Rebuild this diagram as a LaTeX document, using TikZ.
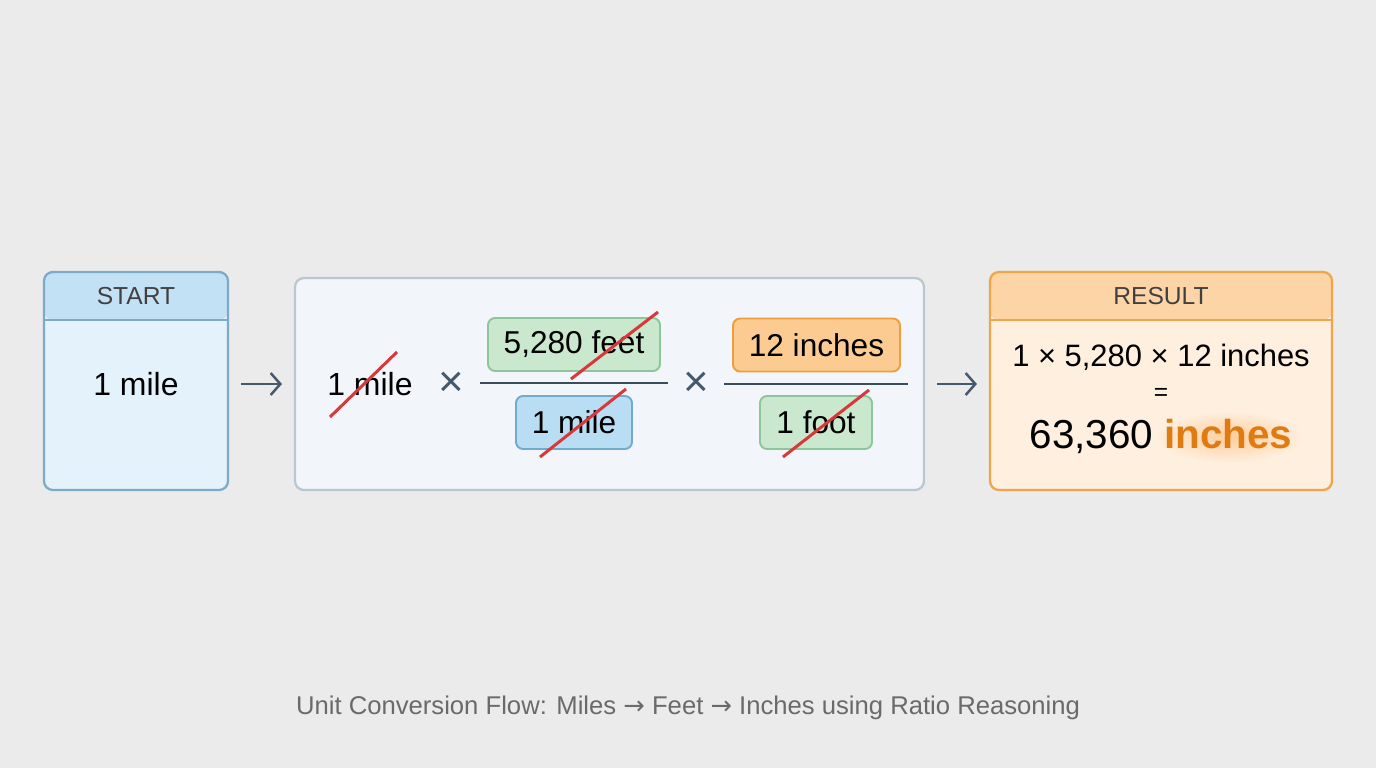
\documentclass[tikz,border=0pt]{standalone}
\usepackage{fontspec}
\setmainfont{Liberation Sans}
\newfontfamily\symfont{DejaVu Sans}
\usetikzlibrary{arrows.meta,positioning}

\definecolor{bgGray}{HTML}{EBEBEB}
\definecolor{startLine}{HTML}{7DAAC6}
\definecolor{startTop}{HTML}{C2E1F5}
\definecolor{startBody}{HTML}{E4F2FC}
\definecolor{calcLine}{HTML}{BAC6D0}
\definecolor{calcBody}{HTML}{F2F6FA}
\definecolor{resLine}{HTML}{F0A54A}
\definecolor{resTop}{HTML}{FDD4A6}
\definecolor{resBody}{HTML}{FEEFDF}
\definecolor{greenFill}{HTML}{C9E8CD}
\definecolor{greenLine}{HTML}{8CC69A}
\definecolor{blueFill}{HTML}{B9DDF3}
\definecolor{blueLine}{HTML}{72AACD}
\definecolor{orangeFill}{HTML}{FBCB92}
\definecolor{orangeLine}{HTML}{EE9E3E}
\definecolor{strikeRed}{HTML}{D8383C}
\definecolor{slate}{HTML}{45596B}
\definecolor{inchOrange}{HTML}{E07B12}
\definecolor{capGray}{HTML}{6A6A6A}

\tikzset{
  card/.style n args={3}{draw=#1, fill=#2, rounded corners=5pt, line width=1.3pt, inner sep=0,
    path picture={\path[fill=#3, draw=none] (path picture bounding box.north west) rectangle ([yshift=-0.96cm]path picture bounding box.north east);
      \path[draw=#1, line width=1.3pt] ([yshift=-0.96cm]path picture bounding box.north west) -- ([yshift=-0.96cm]path picture bounding box.north east);}},
  pill/.style 2 args={draw=#1, fill=#2, rounded corners=4pt, line width=1.1pt, inner sep=0,
    minimum height=1.06cm, font=\fontsize{18}{21}\selectfont},
  headtext/.style={font=\fontsize{14}{16}\selectfont, text=black!75},
  bigtext/.style={font=\fontsize{18.2}{21}\selectfont},
  strike/.style={draw=strikeRed, line width=1.7pt},
  times/.style={font=\fontsize{25}{27}\selectfont, text=slate},
  bar/.style={draw=slate!85!black, line width=1.2pt},
  flow/.style={->, draw=slate, line width=1.4pt, shorten <=6.8pt, shorten >=6.8pt},
  totalfont/.style={font=\fontsize{23}{26}\selectfont}
}

\begin{document}
\begin{tikzpicture}[x=0.02cm,y=-0.02cm,>={Straight Barb[length=5.5pt,width=12.5pt]}]
  \fill[bgGray] (0,0) rectangle (1376,768);
  \useasboundingbox (0,0) rectangle (1376,768);

  % three panels
  \node[card={startLine}{startBody}{startTop}, minimum width=3.68cm, minimum height=4.36cm] (start) at (136,381) {};
  \node[draw=calcLine, fill=calcBody, rounded corners=5pt, line width=1.3pt, minimum width=12.58cm, minimum height=4.24cm] (calc) at (609.5,384) {};
  \node[card={resLine}{resBody}{resTop}, minimum width=6.84cm, minimum height=4.36cm] (result) at (1161,381) {};

  \node[headtext] (startTitle) at (136,296) {START};
  \node[bigtext]  (startVal)   at (136,384) {1 mile};
  \node[headtext] (resTitle)   at (1161,296) {RESULT};

  % the chain of ratios
  \node[bigtext] (mile1) at (370,384) {1 mile};
  \node[times]   (x1)    at (451,384) {×};
  \node[pill={greenLine}{greenFill}, minimum width=3.44cm]   (feet)  at (574,344.5) {5,280 feet};
  \node[pill={blueLine}{blueFill}, minimum width=2.32cm]     (mile2) at (574,422.5) {1 mile};
  \node[times]   (x2)    at (696,384) {×};
  \node[pill={orangeLine}{orangeFill}, minimum width=3.34cm] (inch)  at (816.5,345) {12 inches};
  \node[pill={greenLine}{greenFill}, minimum width=2.24cm]   (foot)  at (816,422.5) {1 foot};

  \draw[bar] (480,383) -- (668,383);
  \draw[bar] (724,384) -- (908,384);

  \draw[strike] (330,417) -- (397,352);
  \draw[strike] (571,379) -- (658,312);
  \draw[strike] (540,457) -- (626,389);
  \draw[strike] (783,457) -- (869,390);

  % result text, with a soft glow behind the unit
  \node[font=\fontsize{17.6}{20}\selectfont] (prod) at (1161,357) {1 × 5,280 × 12 inches};
  \node[font=\fontsize{14}{16}\selectfont]   (eq)   at (1161,394) {=};
  \shade[inner color=orange!30!resBody, outer color=resBody] (1229,437) ellipse (74 and 26);
  \node[totalfont] (total) at (1161,436) {63,360 \textcolor{inchOrange}{\bfseries inches}};

  \path (start.east |- calc.west) edge[flow] (calc.west)
        (calc.east) edge[flow] (result.west |- calc.east);

  \node[font=\fontsize{14.6}{17}\selectfont, text=capGray] (caption) at (688,708)
    {Unit Conversion Flow: Miles {\symfont→} Feet {\symfont→} Inches using Ratio Reasoning};
\end{tikzpicture}
\end{document}
